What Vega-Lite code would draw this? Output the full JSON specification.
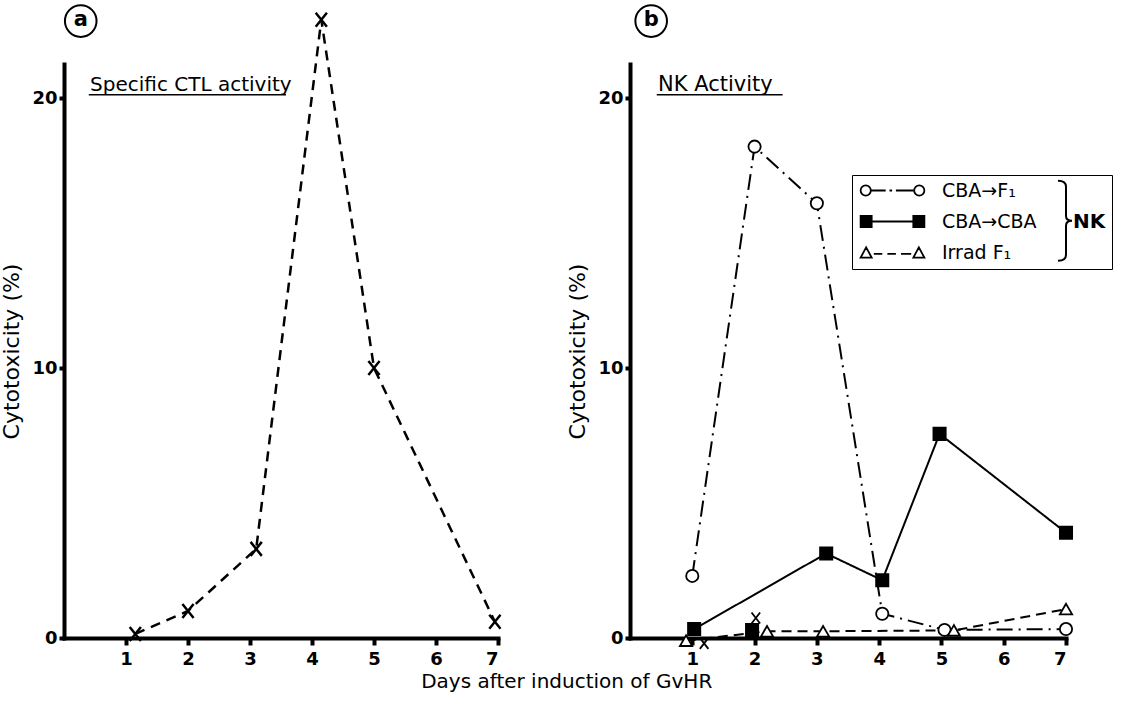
{
  "$schema": "https://vega.github.io/schema/vega-lite/v6.json",
  "background": "white",
  "padding": {"left": 0, "top": 1, "right": 0, "bottom": 2},
  "config": {"view": {"stroke": null}, "font": "DejaVu Sans",
    "axis": {"grid": false, "domainColor": "black", "domainWidth": 4, "domainCap": "square", "tickColor": "black", "tickWidth": 4, "labelFontSize": 18, "labelFontWeight": "bold", "labelColor": "black", "titleFontSize": 22, "titleFontWeight": "normal", "titleColor": "black"},
    "axisX": {"tickSize": 7, "labelPadding": 5, "format": "d"},
    "axisY": {"tickSize": 5, "labelPadding": 2, "titlePadding": 8, "format": "d"}},
  "title": {"text": "Days after induction of GvHR", "orient": "bottom", "anchor": "middle", "fontSize": 20, "fontWeight": "normal", "font": "DejaVu Sans", "offset": 4, "dx": 10, "color": "black"},
  "spacing": 60,
  "datasets": {
    "ctl": [
      {"day": 1.15, "cytotoxicity": 0.15},
      {"day": 2.0, "cytotoxicity": 1.0},
      {"day": 3.1, "cytotoxicity": 3.3},
      {"day": 4.15, "cytotoxicity": 22.9},
      {"day": 5.0, "cytotoxicity": 10.0},
      {"day": 6.95, "cytotoxicity": 0.6}
    ],
    "nk": [
      {"series": "CBA→F₁", "day": 1.0, "cytotoxicity": 2.3, "linked": true},
      {"series": "CBA→F₁", "day": 2.0, "cytotoxicity": 18.2, "linked": true},
      {"series": "CBA→F₁", "day": 3.0, "cytotoxicity": 16.1, "linked": true},
      {"series": "CBA→F₁", "day": 4.05, "cytotoxicity": 0.9, "linked": true},
      {"series": "CBA→F₁", "day": 5.05, "cytotoxicity": 0.3, "linked": true},
      {"series": "CBA→F₁", "day": 7.0, "cytotoxicity": 0.33, "linked": true},
      {"series": "CBA→CBA", "day": 1.03, "cytotoxicity": 0.33, "linked": true},
      {"series": "CBA→CBA", "day": 3.15, "cytotoxicity": 3.13, "linked": true},
      {"series": "CBA→CBA", "day": 4.05, "cytotoxicity": 2.14, "linked": true},
      {"series": "CBA→CBA", "day": 4.97, "cytotoxicity": 7.56, "linked": true},
      {"series": "CBA→CBA", "day": 7.0, "cytotoxicity": 3.9, "linked": true},
      {"series": "CBA→CBA", "day": 1.96, "cytotoxicity": 0.3, "linked": false},
      {"series": "Irrad F₁", "day": 0.9, "cytotoxicity": -0.1, "linked": true},
      {"series": "Irrad F₁", "day": 2.2, "cytotoxicity": 0.25, "linked": true},
      {"series": "Irrad F₁", "day": 3.1, "cytotoxicity": 0.25, "linked": true},
      {"series": "Irrad F₁", "day": 5.2, "cytotoxicity": 0.28, "linked": true},
      {"series": "Irrad F₁", "day": 7.0, "cytotoxicity": 1.07, "linked": true},
      {"series": "CTL", "day": 1.19, "cytotoxicity": -0.2, "linked": false},
      {"series": "CTL", "day": 2.02, "cytotoxicity": 0.74, "linked": false}
    ],
    "notes": [
      {"key": "panelA", "label": "a"},
      {"key": "titleA", "label": "Specific CTL activity"},
      {"key": "panelB", "label": "b"},
      {"key": "titleB", "label": "NK Activity"},
      {"key": "brace", "label": "}"}
    ]
  },
  "hconcat": [
    {
      "width": 434,
      "height": 574,
      "layer": [
        {"data": {"name": "ctl"}, "mark": {"type": "line", "color": "black", "strokeWidth": 2.5, "strokeDash": [10, 7]},
          "encoding": {
            "x": {"field": "day", "type": "quantitative", "scale": {"domain": [0, 7], "nice": false, "zero": false}, "axis": {"values": [1, 2, 3, 4, 5, 6, 7], "title": null}},
            "y": {"field": "cytotoxicity", "type": "quantitative", "scale": {"domain": [0, 21.26], "nice": false}, "axis": {"values": [0, 10, 20], "title": "Cytotoxicity (%)"}}}},
        {"data": {"name": "ctl"}, "mark": {"type": "point", "shape": "M-0.8,-1L0.8,1M0.8,-1L-0.8,1", "size": 196, "filled": false, "stroke": "black", "strokeWidth": 2.5, "opacity": 1},
          "encoding": {
            "x": {"field": "day", "type": "quantitative"},
            "y": {"field": "cytotoxicity", "type": "quantitative"}}},
        {"data": {"name": "notes"}, "transform": [{"filter": "datum.key === 'panelA'"}],
          "mark": {"type": "point", "shape": "circle", "size": 1000, "filled": false, "stroke": "black", "strokeWidth": 2, "opacity": 1},
          "encoding": {"x": {"datum": 0.27, "type": "quantitative"}, "y": {"datum": 22.85, "type": "quantitative"}}},
        {"data": {"name": "notes"}, "transform": [{"filter": "datum.key === 'panelA'"}],
          "mark": {"type": "text", "fontSize": 21, "fontWeight": "bold", "align": "center", "baseline": "middle", "dy": -1, "color": "black"},
          "encoding": {"x": {"datum": 0.27, "type": "quantitative"}, "y": {"datum": 22.85, "type": "quantitative"}, "text": {"field": "label", "type": "nominal"}}},
        {"data": {"name": "notes"}, "transform": [{"filter": "datum.key === 'titleA'"}],
          "mark": {"type": "text", "fontSize": 20, "align": "left", "baseline": "middle", "color": "black"},
          "encoding": {"x": {"datum": 0.42, "type": "quantitative"}, "y": {"datum": 20.5, "type": "quantitative"}, "text": {"field": "label", "type": "nominal"}}},
        {"data": {"name": "notes"}, "transform": [{"filter": "datum.key === 'titleA'"}],
          "mark": {"type": "rule", "color": "black", "strokeWidth": 1.5},
          "encoding": {"x": {"datum": 0.4, "type": "quantitative"}, "x2": {"datum": 3.58}, "y": {"datum": 20.12, "type": "quantitative"}}}
      ]
    },
    {
      "width": 436,
      "height": 574,
      "layer": [
        {"data": {"name": "nk"}, "transform": [{"filter": "datum.linked && datum.series !== 'CTL'"}],
          "mark": {"type": "line", "color": "black", "strokeWidth": 2},
          "encoding": {
            "x": {"field": "day", "type": "quantitative", "scale": {"domain": [0, 7], "nice": false, "zero": false}, "axis": {"values": [1, 2, 3, 4, 5, 6, 7], "title": null}},
            "y": {"field": "cytotoxicity", "type": "quantitative", "scale": {"domain": [0, 21.26], "nice": false}, "axis": {"values": [0, 10, 20], "title": "Cytotoxicity (%)"}},
            "strokeDash": {"field": "series", "type": "nominal", "legend": null,
              "scale": {"domain": ["CBA→F₁", "CBA→CBA", "Irrad F₁"], "range": [[16, 6, 2, 6], [1, 0], [10, 6]]}}}},
        {"data": {"name": "nk"},
          "mark": {"type": "point", "filled": true, "stroke": "black", "strokeWidth": 1.8, "opacity": 1, "size": 150},
          "encoding": {
            "x": {"field": "day", "type": "quantitative"},
            "y": {"field": "cytotoxicity", "type": "quantitative"},
            "fill": {"condition": {"test": "datum.series === 'CBA→CBA'", "value": "black"}, "value": "white"},
            "shape": {"field": "series", "type": "nominal", "legend": null,
              "scale": {"domain": ["CBA→F₁", "CBA→CBA", "Irrad F₁", "CTL"], "range": ["circle", "square", "triangle-up", "M-0.7,-0.9L0.7,0.9M0.7,-0.9L-0.7,0.9"]}}
          }},
        {"data": {"name": "nk"}, "transform": [{"filter": "false"}],
          "mark": {"type": "point", "filled": false, "stroke": "black", "strokeWidth": 1.8, "opacity": 1},
          "encoding": {
            "x": {"field": "day", "type": "quantitative"},
            "y": {"field": "cytotoxicity", "type": "quantitative"},
            "shape": {"field": "series", "type": "nominal",
              "scale": {"domain": ["CBA→F₁", "CBA→CBA", "Irrad F₁"], "range": [
                "M-3.75,0A0.6,0.6 0 1,1 -2.55,0A0.6,0.6 0 1,1 -3.75,0Z M-2.55,0L-0.8,0 M-0.35,0L-0.05,0 M0.4,0L2.55,0 M2.55,0A0.6,0.6 0 1,1 3.75,0A0.6,0.6 0 1,1 2.55,0Z",
                "M-3.75,-0.65H-2.45V0.65H-3.75Z M-3.75,-0.45H-2.45 M-3.75,-0.25H-2.45 M-3.75,-0.05H-2.45 M-3.75,0.15H-2.45 M-3.75,0.35H-2.45 M-3.75,0.55H-2.45 M-2.45,0H2.45 M2.45,-0.65H3.75V0.65H2.45Z M2.45,-0.45H3.75 M2.45,-0.25H3.75 M2.45,-0.05H3.75 M2.45,0.15H3.75 M2.45,0.35H3.75 M2.45,0.55H3.75",
                "M-3.75,0.6L-3.1,-0.6L-2.45,0.6Z M-2.2,0.15H-1.2 M-0.6,0.15H0.4 M1.0,0.15H2.2 M2.45,0.6L3.1,-0.6L3.75,0.6Z"]},
              "legend": {
                "orient": "none", "legendX": 222, "legendY": 111,
                "title": "NK", "titleOrient": "right", "titleAnchor": "middle", "titleBaseline": "middle", "titleFontSize": 20, "titleFontWeight": "bold", "titleColor": "black", "titlePadding": 36,
                "strokeColor": "black", "padding": 6,
                "symbolSize": 289, "symbolOffset": 25, "labelOffset": 40,
                "symbolStrokeColor": "black", "symbolStrokeWidth": 1.8, "symbolFillColor": "white",
                "labelFontSize": 19, "labelColor": "black", "rowPadding": 11
              }}
          }},
        {"data": {"name": "notes"}, "transform": [{"filter": "datum.key === 'panelB'"}],
          "mark": {"type": "point", "shape": "circle", "size": 1000, "filled": false, "stroke": "black", "strokeWidth": 2, "opacity": 1},
          "encoding": {"x": {"datum": 0.34, "type": "quantitative"}, "y": {"datum": 22.85, "type": "quantitative"}}},
        {"data": {"name": "notes"}, "transform": [{"filter": "datum.key === 'panelB'"}],
          "mark": {"type": "text", "fontSize": 21, "fontWeight": "bold", "align": "center", "baseline": "middle", "dy": -1, "color": "black"},
          "encoding": {"x": {"datum": 0.34, "type": "quantitative"}, "y": {"datum": 22.85, "type": "quantitative"}, "text": {"field": "label", "type": "nominal"}}},
        {"data": {"name": "notes"}, "transform": [{"filter": "datum.key === 'titleB'"}],
          "mark": {"type": "text", "fontSize": 21, "align": "left", "baseline": "middle", "color": "black"},
          "encoding": {"x": {"datum": 0.45, "type": "quantitative"}, "y": {"datum": 20.5, "type": "quantitative"}, "text": {"field": "label", "type": "nominal"}}},
        {"data": {"name": "notes"}, "transform": [{"filter": "datum.key === 'titleB'"}],
          "mark": {"type": "rule", "color": "black", "strokeWidth": 1.5},
          "encoding": {"x": {"datum": 0.43, "type": "quantitative"}, "x2": {"datum": 2.45}, "y": {"datum": 20.12, "type": "quantitative"}}},
        {"data": {"name": "notes"}, "transform": [{"filter": "datum.key === 'brace'"}],
          "mark": {"type": "point", "shape": "M-0.2,-1Q0,-1 0,-0.85L0,-0.12Q0,0 0.15,0Q0,0 0,0.12L0,0.85Q0,1 -0.2,1", "size": 6400, "filled": false, "stroke": "black", "strokeWidth": 2, "opacity": 1},
          "encoding": {"x": {"datum": 7.0, "type": "quantitative"}, "y": {"datum": 15.45, "type": "quantitative"}}}
      ],
      "resolve": {"scale": {"shape": "independent"}, "legend": {"shape": "independent"}}
    }
  ],
  "resolve": {"scale": {"x": "independent", "y": "independent", "shape": "independent", "strokeDash": "independent"}}
}
